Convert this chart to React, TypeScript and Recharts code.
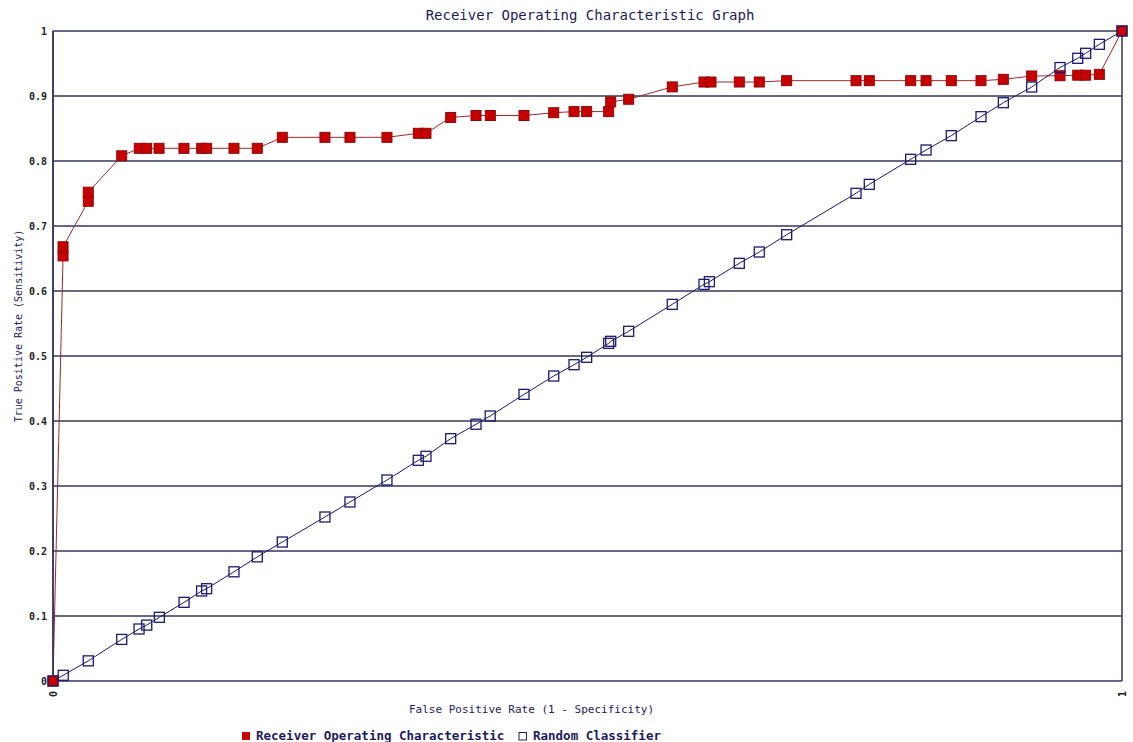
import React from 'react';
import { LineChart, Line, XAxis, YAxis, CartesianGrid } from 'recharts';

// ROC curve points (false positive rate, true positive rate)
const rocFpr = [
  0, 0.0094, 0.0094, 0.033, 0.033, 0.0643, 0.0807, 0.0876, 0.0992, 0.1225,
  0.1391, 0.1437, 0.1693, 0.1911, 0.2145, 0.2544, 0.2778, 0.3124, 0.3418, 0.3489,
  0.372, 0.3957, 0.4091, 0.4406, 0.4684, 0.4874, 0.4992, 0.5198, 0.5217, 0.5385,
  0.5793, 0.609, 0.6155, 0.642, 0.6607, 0.6863, 0.7512, 0.7636, 0.8023, 0.8167,
  0.8403, 0.8681, 0.889, 0.9155, 0.942, 0.9586, 0.966, 0.9788, 1,
];
const rocTpr = [
  0, 0.654, 0.668, 0.738, 0.752, 0.808, 0.8195, 0.8195, 0.8195, 0.8195,
  0.8195, 0.8195, 0.8195, 0.8195, 0.8364, 0.8364, 0.8364, 0.8364, 0.8426, 0.8426,
  0.867, 0.87, 0.87, 0.87, 0.8743, 0.876, 0.876, 0.876, 0.891, 0.895,
  0.914, 0.9215, 0.9215, 0.9215, 0.9215, 0.9236, 0.9236, 0.9236, 0.9236, 0.9236,
  0.9236, 0.9236, 0.9256, 0.9308, 0.9312, 0.932, 0.932, 0.9333, 1,
];

// random classifier points
const randFpr = [
  0, 0.0096, 0.033, 0.0643, 0.0805, 0.0877, 0.0995, 0.1226, 0.139, 0.1437,
  0.1693, 0.1911, 0.2145, 0.2544, 0.2778, 0.3124, 0.3417, 0.3489, 0.372, 0.3957,
  0.409, 0.4406, 0.4684, 0.4874, 0.4992, 0.5198, 0.5217, 0.5385, 0.5793, 0.609,
  0.614, 0.642, 0.6607, 0.6863, 0.7512, 0.7636, 0.8023, 0.8167, 0.8403, 0.8681,
  0.889, 0.9155, 0.942, 0.9586, 0.966, 0.9788, 1,
];
const randTpr = [
  0, 0.0088, 0.031, 0.064, 0.08, 0.086, 0.098, 0.121, 0.1385, 0.142,
  0.168, 0.191, 0.2138, 0.2523, 0.2754, 0.3092, 0.3395, 0.3457, 0.3728, 0.395,
  0.4077, 0.441, 0.4692, 0.4866, 0.498, 0.5195, 0.5226, 0.538, 0.5795, 0.6102,
  0.6143, 0.6426, 0.66, 0.6866, 0.7503, 0.7641, 0.8026, 0.8169, 0.839, 0.8682,
  0.8897, 0.9138, 0.9438, 0.958, 0.9657, 0.9795, 1,
];

const yTicks = [0, 0.1, 0.2, 0.3, 0.4, 0.5, 0.6, 0.7, 0.8, 0.9, 1];
const xTicks = [0, 1];

const rocData = rocFpr.map((x, i) => ({ x, y: rocTpr[i] }));
const randData = randFpr.map((x, i) => ({ x, y: randTpr[i] }));

const MONO = '"DejaVu Sans Mono", monospace';
const NAVY = '#1c1c5c';
const GRID = '#34345e';

const RedSquare = (props: any) => {
  const { cx, cy, index } = props;
  if (cx == null || cy == null) return <g key={index} />;
  return <rect key={index} x={cx - 5} y={cy - 5} width={10} height={10} fill="#c80000" stroke="#8a0a0a" strokeWidth={1} />;
};

const BlueSquare = (props: any) => {
  const { cx, cy, index } = props;
  if (cx == null || cy == null) return <g key={index} />;
  return <rect key={index} x={cx - 5} y={cy - 5} width={10} height={10} fill="none" stroke="#1a1a70" strokeWidth={1.3} />;
};

const XTick = (props: any) => {
  const { x, y, payload } = props;
  return (
    <text
      x={x}
      y={y + 2}
      transform={`rotate(-90, ${x}, ${y + 2})`}
      textAnchor="end"
      dy="0.35em"
      fontFamily={MONO}
      fontSize={10}
      fontWeight="bold"
      fill="#222"
    >
      {payload.value}
    </text>
  );
};

export default function App() {
  return (
    <div style={{ position: 'absolute', left: 0, top: 0, width: 1133, height: 742, background: '#fff' }}>
      <LineChart
        width={1133}
        height={742}
        margin={{ top: 31, right: 11, bottom: 41, left: 0 }}
      >
        <CartesianGrid stroke={GRID} strokeWidth={1.5} horizontalValues={yTicks} verticalValues={xTicks} />
        <XAxis
          type="number"
          dataKey="x"
          domain={[0, 1]}
          ticks={xTicks}
          height={20}
          axisLine={false}
          tickLine={false}
          tick={<XTick />}
          interval={0}
        />
        <YAxis
          type="number"
          dataKey="y"
          domain={[0, 1]}
          ticks={yTicks}
          width={53}
          axisLine={{ stroke: GRID, strokeWidth: 1.5 }}
          tickLine={false}
          interval={0}
          tickFormatter={(v) => String(v)}
          tick={{ fontFamily: MONO, fontSize: 10, fontWeight: 'bold', fill: '#222', dx: 2 }}
        />
        <Line
          data={rocData}
          dataKey="y"
          type="linear"
          stroke="#9a2a2a"
          strokeWidth={1}
          dot={RedSquare}
          activeDot={false}
          isAnimationActive={false}
        />
        <Line
          data={randData}
          dataKey="y"
          type="linear"
          stroke="#1a1a70"
          strokeWidth={1}
          dot={BlueSquare}
          activeDot={false}
          isAnimationActive={false}
        />
      </LineChart>
      <svg
        width={1133}
        height={742}
        style={{ position: 'absolute', left: 0, top: 0, pointerEvents: 'none' }}
      >
        <text x={590} y={20} textAnchor="middle" fontFamily={MONO} fontSize={14} fill={NAVY}>
          Receiver Operating Characteristic Graph
        </text>
        <text
          x={22}
          y={326}
          textAnchor="middle"
          transform="rotate(-90, 22, 326)"
          fontFamily={MONO}
          fontSize={10}
          fill={NAVY}
        >
          True Positive Rate (Sensitivity)
        </text>
        <text x={409} y={713} fontFamily={MONO} fontSize={11} fill={NAVY}>
          False Positive Rate (1 - Specificity)
        </text>
        <rect x={242} y={732} width={8} height={8} fill="#c80000" />
        <text x={256} y={740} fontFamily={MONO} fontSize={12.5} fontWeight="bold" fill={NAVY}>
          Receiver Operating Characteristic
        </text>
        <rect x={519} y={732.5} width={7.5} height={7.5} fill="#fff" stroke={NAVY} strokeWidth={1} />
        <text x={533} y={740} fontFamily={MONO} fontSize={12.5} fontWeight="bold" fill={NAVY}>
          Random Classifier
        </text>
      </svg>
    </div>
  );
}
